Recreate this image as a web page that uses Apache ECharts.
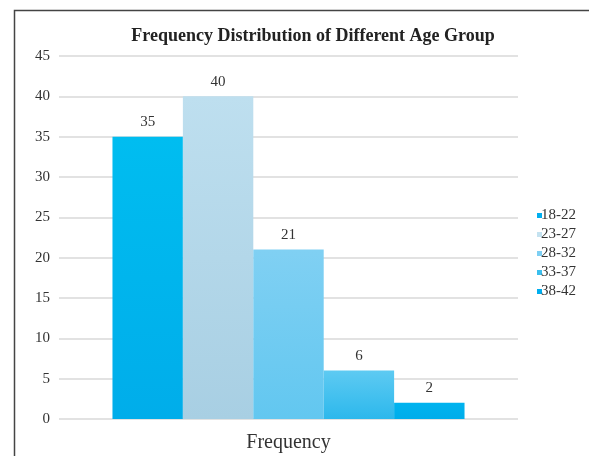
<!DOCTYPE html>
<html>
<head>
<meta charset="utf-8">
<script src="https://cdn.jsdelivr.net/npm/echarts@6/dist/echarts.min.js"></script>
<style>
  html, body { margin: 0; padding: 0; background: #fff; }
  #chart { width: 589px; height: 456px; }
</style>
</head>
<body>
<div id="chart"></div>
<script>
// Age groups and their counts
const ageGroups = ['18-22', '23-27', '28-32', '33-37', '38-42'];
const frequencies = [35, 40, 21, 6, 2];
const categories = ['Frequency'];

// Fill per age group: [top colour, bottom colour]
const fills = [
  ['#00BDF0', '#00ADEA'],
  ['#BEDFEF', '#A8CFE3'],
  ['#80D0F3', '#62C7F0'],
  ['#5ECAF2', '#2CB8EC'],
  ['#00B3EF', '#00ADEA']
];
const legendColors = ['#00AEEF', '#C4E2F0', '#7ECFF3', '#3ABFEE', '#00AEEF'];

const serif = 'Liberation Serif';

const series = ageGroups.map((name, i) => ({
  name: name,
  type: 'bar',
  data: [frequencies[i]],
  barGap: '0%',
  barCategoryGap: '23.3%',
  itemStyle: {
    color: new echarts.graphic.LinearGradient(0, 0, 0, 1, [
      { offset: 0, color: fills[i][0] },
      { offset: 1, color: fills[i][1] }
    ])
  },
  label: {
    show: true,
    position: 'top',
    distance: 7,
    fontFamily: serif,
    fontSize: 15,
    color: '#333'
  }
}));

const chart = echarts.init(document.getElementById('chart'), null, { renderer: 'canvas' });
chart.setOption({
  animation: false,
  backgroundColor: '#fff',
  title: {
    text: 'Frequency Distribution of Different Age Group',
    left: 308,
    textAlign: 'center',
    top: 22,
    textStyle: { fontFamily: serif, fontSize: 18, fontWeight: 'bold', color: '#222' }
  },
  legend: {
    orient: 'vertical',
    left: 532,
    top: 203,
    itemWidth: 5,
    itemHeight: 5,
    itemGap: 4,
    icon: 'rect',
    data: ageGroups.map((n, i) => ({ name: n, itemStyle: { color: legendColors[i] } })),
    textStyle: { fontFamily: serif, fontSize: 15, color: '#333', padding: [0, 0, 0, -6] }
  },
  grid: { left: 59, right: 71, top: 56, bottom: 37, containLabel: false },
  xAxis: {
    type: 'category',
    data: categories,
    axisLine: { show: false },
    axisTick: { show: false },
    axisLabel: { fontFamily: serif, fontSize: 20, color: '#333', margin: 14 }
  },
  yAxis: {
    type: 'value',
    min: 0,
    max: 45,
    interval: 5,
    axisLine: { show: false },
    axisTick: { show: false },
    axisLabel: { fontFamily: serif, fontSize: 15, color: '#333', margin: 9 },
    splitLine: { lineStyle: { color: '#d9d9d9', width: 1.5 } }
  },
  graphic: [{
    type: 'rect',
    shape: { x: 14.5, y: 10.5, width: 620, height: 500 },
    style: { fill: 'none', stroke: '#444', lineWidth: 1.5 },
    silent: true
  }],
  series: series
});
</script>
</body>
</html>
